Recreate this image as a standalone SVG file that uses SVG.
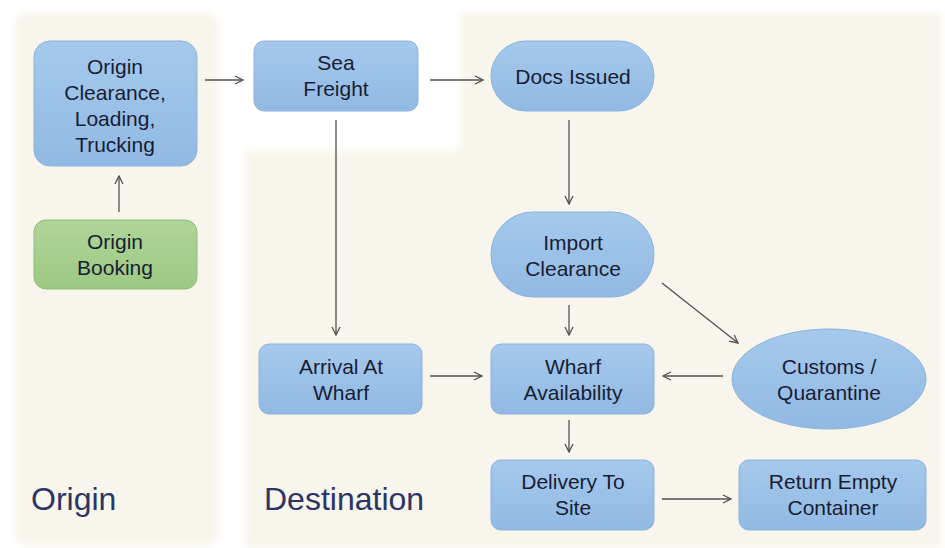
<svg xmlns="http://www.w3.org/2000/svg" width="945" height="548" viewBox="0 0 945 548">
<defs>
<linearGradient id="gb" x1="0" y1="0" x2="0" y2="1"><stop offset="0" stop-color="#a6c9ed"/><stop offset="1" stop-color="#91b9e3"/></linearGradient>
<linearGradient id="gg" x1="0" y1="0" x2="0" y2="1"><stop offset="0" stop-color="#b0d598"/><stop offset="1" stop-color="#9dc884"/></linearGradient>
<filter id="soft" x="-5%" y="-5%" width="110%" height="110%"><feGaussianBlur stdDeviation="3"/></filter>
<marker id="ah" viewBox="0 0 10 10" refX="9" refY="5" markerWidth="10" markerHeight="10" markerUnits="userSpaceOnUse" orient="auto">
<path d="M1,1 L9,5 L1,9" fill="none" stroke="#505050" stroke-width="1.3"/>
</marker>
<style>
.bx{fill:url(#gb);stroke:#8cb2dc;stroke-width:1}
.gr{fill:url(#gg);stroke:#8fbc75;stroke-width:1}
.t{font-family:"Liberation Sans",Arial,sans-serif;font-size:21px;fill:#171d33;text-anchor:middle}
.lb{font-family:"Liberation Sans",Arial,sans-serif;font-size:32px;fill:#2c3566}
.c{fill:none;stroke:#505050;stroke-width:1.3;marker-end:url(#ah)}
</style>
</defs>
<rect width="945" height="548" fill="#ffffff"/>
<g id="panels" filter="url(#soft)">
<rect x="14" y="12" width="205" height="534" rx="14" fill="#f8f6ec"/>
<path d="M460,12 H942 V548 H245 V150 H460 Z" fill="#f8f6ec"/>
</g>
<g id="connectors">
<line class="c" x1="119" y1="212" x2="119" y2="176"/>
<line class="c" x1="205" y1="80" x2="243" y2="80"/>
<line class="c" x1="430" y1="80" x2="483" y2="80"/>
<line class="c" x1="336" y1="120" x2="336" y2="335"/>
<line class="c" x1="569" y1="120" x2="569" y2="204"/>
<line class="c" x1="569" y1="305" x2="569" y2="335"/>
<line class="c" x1="662" y1="283" x2="738" y2="343"/>
<line class="c" x1="430" y1="376" x2="482" y2="376"/>
<line class="c" x1="723" y1="376" x2="663" y2="376"/>
<line class="c" x1="569" y1="420" x2="569" y2="452"/>
<line class="c" x1="662" y1="499" x2="731" y2="499"/>
</g>
<g id="origin-clearance"><rect class="bx" x="34" y="41" width="163" height="125" rx="16"/>
<text class="t" x="115" y="74">Origin</text><text class="t" x="115" y="100">Clearance,</text><text class="t" x="115" y="126">Loading,</text><text class="t" x="115" y="152">Trucking</text></g>
<g id="origin-booking"><rect class="gr" x="34" y="220" width="163" height="69" rx="12"/>
<text class="t" x="115" y="249">Origin</text><text class="t" x="115" y="275">Booking</text></g>
<g id="sea-freight"><rect class="bx" x="254" y="41" width="164" height="70" rx="10"/>
<text class="t" x="336" y="70">Sea</text><text class="t" x="336" y="96">Freight</text></g>
<g id="docs-issued"><rect class="bx" x="491" y="41" width="163" height="70" rx="35"/>
<text class="t" x="573" y="84">Docs Issued</text></g>
<g id="import-clearance"><rect class="bx" x="491" y="212" width="163" height="85" rx="42"/>
<text class="t" x="573" y="250">Import</text><text class="t" x="573" y="276">Clearance</text></g>
<g id="arrival-at-wharf"><rect class="bx" x="259" y="344" width="163" height="70" rx="10"/>
<text class="t" x="341" y="374">Arrival At</text><text class="t" x="341" y="400">Wharf</text></g>
<g id="wharf-availability"><rect class="bx" x="491" y="344" width="163" height="70" rx="10"/>
<text class="t" x="573" y="374">Wharf</text><text class="t" x="573" y="400">Availability</text></g>
<g id="customs-quarantine"><ellipse class="bx" cx="829" cy="379" rx="97" ry="50"/>
<text class="t" x="829" y="374">Customs /</text><text class="t" x="829" y="400">Quarantine</text></g>
<g id="delivery-to-site"><rect class="bx" x="491" y="460" width="163" height="70" rx="10"/>
<text class="t" x="573" y="489">Delivery To</text><text class="t" x="573" y="515">Site</text></g>
<g id="return-empty-container"><rect class="bx" x="739" y="460" width="187" height="70" rx="10"/>
<text class="t" x="833" y="489">Return Empty</text><text class="t" x="833" y="515">Container</text></g>
<g id="labels">
<text class="lb" x="31" y="510">Origin</text>
<text class="lb" x="264" y="510">Destination</text>
</g>
</svg>
